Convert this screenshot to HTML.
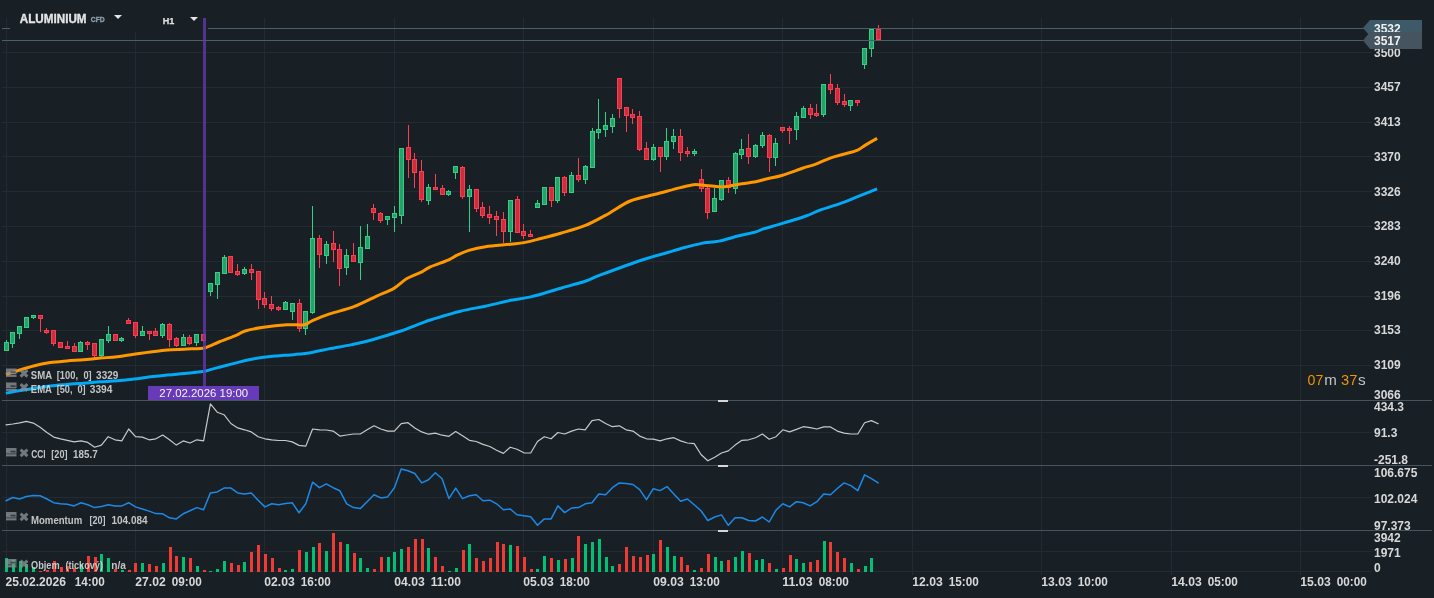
<!DOCTYPE html>
<html><head><meta charset="utf-8"><title>ALUMINIUM H1</title>
<style>html,body{margin:0;padding:0;background:#182026;overflow:hidden;width:1434px;height:598px}svg{display:block;will-change:transform}text{font-family:"Liberation Sans",sans-serif}</style>
</head><body><svg width="1434" height="598" viewBox="0 0 1434 598" font-family="Liberation Sans, sans-serif"><rect x="0" y="0" width="1434" height="598" fill="#182026"/><g fill="#222b31"><rect x="6" y="18" width="1" height="557"/><rect x="135" y="18" width="1" height="557"/><rect x="264" y="18" width="1" height="557"/><rect x="394" y="18" width="1" height="557"/><rect x="523" y="18" width="1" height="557"/><rect x="653" y="18" width="1" height="557"/><rect x="782" y="18" width="1" height="557"/><rect x="912" y="18" width="1" height="557"/><rect x="1041" y="18" width="1" height="557"/><rect x="1171" y="18" width="1" height="557"/><rect x="1300" y="18" width="1" height="557"/><rect x="2" y="52" width="1370" height="1"/><rect x="2" y="87" width="1370" height="1"/><rect x="2" y="122" width="1370" height="1"/><rect x="2" y="156" width="1370" height="1"/><rect x="2" y="191" width="1370" height="1"/><rect x="2" y="226" width="1370" height="1"/><rect x="2" y="261" width="1370" height="1"/><rect x="2" y="296" width="1370" height="1"/><rect x="2" y="330" width="1370" height="1"/><rect x="2" y="365" width="1370" height="1"/><rect x="2" y="432" width="1370" height="1"/><rect x="2" y="497" width="1370" height="1"/><rect x="2" y="551" width="1370" height="1"/><rect x="2" y="571" width="1370" height="1"/></g><rect x="10" y="18" width="198" height="14" fill="#182026"/><g fill="#00c073"><rect x="5" y="558" width="3" height="14"/><rect x="12" y="560" width="3" height="12"/><rect x="19" y="561" width="3" height="11"/><rect x="25" y="564" width="3" height="8"/><rect x="32" y="567" width="3" height="5"/><rect x="80" y="564" width="3" height="8"/><rect x="100" y="554" width="3" height="18"/><rect x="107" y="558" width="3" height="14"/><rect x="121" y="570" width="3" height="2"/><rect x="141" y="563" width="3" height="9"/><rect x="162" y="563" width="3" height="9"/><rect x="182" y="557" width="3" height="15"/><rect x="196" y="566" width="3" height="6"/><rect x="209" y="571" width="3" height="1"/><rect x="216" y="569" width="3" height="3"/><rect x="223" y="561" width="3" height="11"/><rect x="243" y="562" width="3" height="10"/><rect x="284" y="570" width="3" height="2"/><rect x="291" y="569" width="3" height="3"/><rect x="305" y="552" width="3" height="20"/><rect x="312" y="547" width="3" height="25"/><rect x="325" y="551" width="3" height="21"/><rect x="346" y="544" width="3" height="28"/><rect x="359" y="558" width="3" height="14"/><rect x="366" y="568" width="3" height="4"/><rect x="387" y="557" width="3" height="15"/><rect x="393" y="552" width="3" height="20"/><rect x="400" y="549" width="3" height="23"/><rect x="427" y="548" width="3" height="24"/><rect x="448" y="571" width="3" height="1"/><rect x="455" y="568" width="3" height="4"/><rect x="468" y="544" width="3" height="28"/><rect x="509" y="545" width="3" height="27"/><rect x="536" y="569" width="3" height="3"/><rect x="543" y="556" width="3" height="16"/><rect x="557" y="560" width="3" height="12"/><rect x="571" y="558" width="3" height="14"/><rect x="584" y="544" width="3" height="28"/><rect x="591" y="542" width="3" height="30"/><rect x="598" y="539" width="3" height="33"/><rect x="605" y="557" width="3" height="15"/><rect x="611" y="566" width="3" height="6"/><rect x="652" y="554" width="3" height="18"/><rect x="666" y="547" width="3" height="25"/><rect x="673" y="556" width="3" height="16"/><rect x="693" y="570" width="3" height="2"/><rect x="714" y="557" width="3" height="15"/><rect x="720" y="561" width="3" height="11"/><rect x="734" y="557" width="3" height="15"/><rect x="741" y="551" width="3" height="21"/><rect x="755" y="560" width="3" height="12"/><rect x="761" y="559" width="3" height="13"/><rect x="775" y="569" width="3" height="3"/><rect x="795" y="559" width="3" height="13"/><rect x="802" y="563" width="3" height="9"/><rect x="823" y="541" width="3" height="31"/><rect x="850" y="563" width="3" height="9"/><rect x="864" y="566" width="3" height="6"/><rect x="870" y="558" width="3" height="14"/></g><g fill="#ef3b33"><rect x="39" y="571" width="3" height="1"/><rect x="46" y="570" width="3" height="2"/><rect x="53" y="561" width="3" height="11"/><rect x="60" y="567" width="3" height="5"/><rect x="66" y="566" width="3" height="6"/><rect x="73" y="568" width="3" height="4"/><rect x="87" y="556" width="3" height="16"/><rect x="94" y="557" width="3" height="15"/><rect x="114" y="569" width="3" height="3"/><rect x="128" y="570" width="3" height="2"/><rect x="134" y="563" width="3" height="9"/><rect x="148" y="564" width="3" height="8"/><rect x="155" y="566" width="3" height="6"/><rect x="169" y="547" width="3" height="25"/><rect x="175" y="556" width="3" height="16"/><rect x="189" y="558" width="3" height="14"/><rect x="203" y="570" width="3" height="2"/><rect x="230" y="563" width="3" height="9"/><rect x="237" y="565" width="3" height="7"/><rect x="250" y="552" width="3" height="20"/><rect x="257" y="545" width="3" height="27"/><rect x="264" y="554" width="3" height="18"/><rect x="271" y="558" width="3" height="14"/><rect x="278" y="568" width="3" height="4"/><rect x="298" y="550" width="3" height="22"/><rect x="318" y="543" width="3" height="29"/><rect x="332" y="533" width="3" height="39"/><rect x="339" y="542" width="3" height="30"/><rect x="353" y="553" width="3" height="19"/><rect x="373" y="569" width="3" height="3"/><rect x="380" y="557" width="3" height="15"/><rect x="407" y="547" width="3" height="25"/><rect x="414" y="539" width="3" height="33"/><rect x="421" y="539" width="3" height="33"/><rect x="434" y="557" width="3" height="15"/><rect x="441" y="566" width="3" height="6"/><rect x="462" y="550" width="3" height="22"/><rect x="475" y="558" width="3" height="14"/><rect x="482" y="561" width="3" height="11"/><rect x="489" y="558" width="3" height="14"/><rect x="496" y="542" width="3" height="30"/><rect x="502" y="544" width="3" height="28"/><rect x="516" y="546" width="3" height="26"/><rect x="523" y="557" width="3" height="15"/><rect x="530" y="569" width="3" height="3"/><rect x="550" y="558" width="3" height="14"/><rect x="564" y="559" width="3" height="13"/><rect x="577" y="536" width="3" height="36"/><rect x="618" y="564" width="3" height="8"/><rect x="625" y="547" width="3" height="25"/><rect x="632" y="556" width="3" height="16"/><rect x="639" y="557" width="3" height="15"/><rect x="646" y="555" width="3" height="17"/><rect x="659" y="540" width="3" height="32"/><rect x="680" y="557" width="3" height="15"/><rect x="686" y="565" width="3" height="7"/><rect x="700" y="568" width="3" height="4"/><rect x="707" y="554" width="3" height="18"/><rect x="727" y="560" width="3" height="12"/><rect x="748" y="553" width="3" height="19"/><rect x="768" y="563" width="3" height="9"/><rect x="782" y="568" width="3" height="4"/><rect x="789" y="555" width="3" height="17"/><rect x="809" y="562" width="3" height="10"/><rect x="816" y="560" width="3" height="12"/><rect x="829" y="542" width="3" height="30"/><rect x="836" y="552" width="3" height="20"/><rect x="843" y="558" width="3" height="14"/><rect x="857" y="569" width="3" height="3"/></g><g shape-rendering="crispEdges"><rect x="6" y="340" width="1" height="11" fill="#32d086"/><rect x="4" y="342" width="5" height="9" fill="#32d086"/><rect x="5" y="343" width="3" height="7" fill="#26a169"/><rect x="12" y="332" width="1" height="16" fill="#32d086"/><rect x="10" y="332" width="5" height="12" fill="#32d086"/><rect x="11" y="333" width="3" height="10" fill="#26a169"/><rect x="19" y="326" width="1" height="13" fill="#32d086"/><rect x="17" y="326" width="5" height="8" fill="#32d086"/><rect x="18" y="327" width="3" height="6" fill="#26a169"/><rect x="26" y="317" width="1" height="11" fill="#32d086"/><rect x="24" y="317" width="5" height="11" fill="#32d086"/><rect x="25" y="318" width="3" height="9" fill="#26a169"/><rect x="33" y="315" width="1" height="4" fill="#32d086"/><rect x="31" y="315" width="5" height="3" fill="#32d086"/><rect x="32" y="316" width="3" height="1" fill="#26a169"/><rect x="40" y="315" width="1" height="17" fill="#ff3d50"/><rect x="38" y="315" width="5" height="4" fill="#ff3d50"/><rect x="39" y="316" width="3" height="2" fill="#cc2e3e"/><rect x="46" y="328" width="1" height="6" fill="#ff3d50"/><rect x="44" y="330" width="5" height="3" fill="#ff3d50"/><rect x="45" y="331" width="3" height="1" fill="#cc2e3e"/><rect x="53" y="330" width="1" height="16" fill="#ff3d50"/><rect x="51" y="330" width="5" height="14" fill="#ff3d50"/><rect x="52" y="331" width="3" height="12" fill="#cc2e3e"/><rect x="60" y="342" width="1" height="6" fill="#ff3d50"/><rect x="58" y="342" width="5" height="6" fill="#ff3d50"/><rect x="59" y="343" width="3" height="4" fill="#cc2e3e"/><rect x="67" y="341" width="1" height="8" fill="#ff3d50"/><rect x="65" y="346" width="5" height="3" fill="#ff3d50"/><rect x="66" y="347" width="3" height="1" fill="#cc2e3e"/><rect x="74" y="343" width="1" height="9" fill="#ff3d50"/><rect x="72" y="346" width="5" height="6" fill="#ff3d50"/><rect x="73" y="347" width="3" height="4" fill="#cc2e3e"/><rect x="80" y="341" width="1" height="11" fill="#32d086"/><rect x="78" y="342" width="5" height="10" fill="#32d086"/><rect x="79" y="343" width="3" height="8" fill="#26a169"/><rect x="87" y="341" width="1" height="9" fill="#ff3d50"/><rect x="85" y="342" width="5" height="3" fill="#ff3d50"/><rect x="86" y="343" width="3" height="1" fill="#cc2e3e"/><rect x="94" y="343" width="1" height="15" fill="#ff3d50"/><rect x="92" y="343" width="5" height="13" fill="#ff3d50"/><rect x="93" y="344" width="3" height="11" fill="#cc2e3e"/><rect x="101" y="339" width="1" height="19" fill="#32d086"/><rect x="99" y="339" width="5" height="17" fill="#32d086"/><rect x="100" y="340" width="3" height="15" fill="#26a169"/><rect x="108" y="326" width="1" height="17" fill="#32d086"/><rect x="106" y="334" width="5" height="7" fill="#32d086"/><rect x="107" y="335" width="3" height="5" fill="#26a169"/><rect x="115" y="334" width="1" height="7" fill="#ff3d50"/><rect x="113" y="334" width="5" height="7" fill="#ff3d50"/><rect x="114" y="335" width="3" height="5" fill="#cc2e3e"/><rect x="121" y="337" width="1" height="5" fill="#32d086"/><rect x="119" y="338" width="5" height="3" fill="#32d086"/><rect x="120" y="339" width="3" height="1" fill="#26a169"/><rect x="128" y="318" width="1" height="6" fill="#ff3d50"/><rect x="126" y="320" width="5" height="4" fill="#ff3d50"/><rect x="127" y="321" width="3" height="2" fill="#cc2e3e"/><rect x="135" y="322" width="1" height="16" fill="#ff3d50"/><rect x="133" y="322" width="5" height="14" fill="#ff3d50"/><rect x="134" y="323" width="3" height="12" fill="#cc2e3e"/><rect x="142" y="326" width="1" height="10" fill="#32d086"/><rect x="140" y="331" width="5" height="5" fill="#32d086"/><rect x="141" y="332" width="3" height="3" fill="#26a169"/><rect x="149" y="331" width="1" height="9" fill="#ff3d50"/><rect x="147" y="331" width="5" height="3" fill="#ff3d50"/><rect x="148" y="332" width="3" height="1" fill="#cc2e3e"/><rect x="155" y="328" width="1" height="8" fill="#ff3d50"/><rect x="153" y="331" width="5" height="5" fill="#ff3d50"/><rect x="154" y="332" width="3" height="3" fill="#cc2e3e"/><rect x="162" y="323" width="1" height="15" fill="#32d086"/><rect x="160" y="324" width="5" height="12" fill="#32d086"/><rect x="161" y="325" width="3" height="10" fill="#26a169"/><rect x="169" y="323" width="1" height="24" fill="#ff3d50"/><rect x="167" y="324" width="5" height="16" fill="#ff3d50"/><rect x="168" y="325" width="3" height="14" fill="#cc2e3e"/><rect x="176" y="337" width="1" height="10" fill="#ff3d50"/><rect x="174" y="338" width="5" height="8" fill="#ff3d50"/><rect x="175" y="339" width="3" height="6" fill="#cc2e3e"/><rect x="183" y="334" width="1" height="12" fill="#32d086"/><rect x="181" y="337" width="5" height="9" fill="#32d086"/><rect x="182" y="338" width="3" height="7" fill="#26a169"/><rect x="189" y="335" width="1" height="10" fill="#ff3d50"/><rect x="187" y="337" width="5" height="7" fill="#ff3d50"/><rect x="188" y="338" width="3" height="5" fill="#cc2e3e"/><rect x="196" y="334" width="1" height="12" fill="#32d086"/><rect x="194" y="334" width="5" height="9" fill="#32d086"/><rect x="195" y="335" width="3" height="7" fill="#26a169"/><rect x="203" y="334" width="1" height="8" fill="#ff3d50"/><rect x="201" y="334" width="5" height="7" fill="#ff3d50"/><rect x="202" y="335" width="3" height="5" fill="#cc2e3e"/><rect x="210" y="283" width="1" height="13" fill="#32d086"/><rect x="208" y="283" width="5" height="9" fill="#32d086"/><rect x="209" y="284" width="3" height="7" fill="#26a169"/><rect x="217" y="272" width="1" height="27" fill="#32d086"/><rect x="215" y="272" width="5" height="13" fill="#32d086"/><rect x="216" y="273" width="3" height="11" fill="#26a169"/><rect x="224" y="255" width="1" height="19" fill="#32d086"/><rect x="222" y="257" width="5" height="17" fill="#32d086"/><rect x="223" y="258" width="3" height="15" fill="#26a169"/><rect x="230" y="256" width="1" height="17" fill="#ff3d50"/><rect x="228" y="256" width="5" height="17" fill="#ff3d50"/><rect x="229" y="257" width="3" height="15" fill="#cc2e3e"/><rect x="237" y="264" width="1" height="12" fill="#ff3d50"/><rect x="235" y="271" width="5" height="4" fill="#ff3d50"/><rect x="236" y="272" width="3" height="2" fill="#cc2e3e"/><rect x="244" y="267" width="1" height="8" fill="#32d086"/><rect x="242" y="269" width="5" height="5" fill="#32d086"/><rect x="243" y="270" width="3" height="3" fill="#26a169"/><rect x="251" y="264" width="1" height="16" fill="#ff3d50"/><rect x="249" y="269" width="5" height="4" fill="#ff3d50"/><rect x="250" y="270" width="3" height="2" fill="#cc2e3e"/><rect x="258" y="271" width="1" height="38" fill="#ff3d50"/><rect x="256" y="271" width="5" height="29" fill="#ff3d50"/><rect x="257" y="272" width="3" height="27" fill="#cc2e3e"/><rect x="264" y="292" width="1" height="16" fill="#ff3d50"/><rect x="262" y="298" width="5" height="7" fill="#ff3d50"/><rect x="263" y="299" width="3" height="5" fill="#cc2e3e"/><rect x="271" y="296" width="1" height="15" fill="#ff3d50"/><rect x="269" y="304" width="5" height="5" fill="#ff3d50"/><rect x="270" y="305" width="3" height="3" fill="#cc2e3e"/><rect x="278" y="306" width="1" height="5" fill="#ff3d50"/><rect x="276" y="307" width="5" height="3" fill="#ff3d50"/><rect x="277" y="308" width="3" height="1" fill="#cc2e3e"/><rect x="285" y="301" width="1" height="9" fill="#32d086"/><rect x="283" y="302" width="5" height="8" fill="#32d086"/><rect x="284" y="303" width="3" height="6" fill="#26a169"/><rect x="292" y="303" width="1" height="17" fill="#32d086"/><rect x="290" y="303" width="5" height="9" fill="#32d086"/><rect x="291" y="304" width="3" height="7" fill="#26a169"/><rect x="299" y="299" width="1" height="33" fill="#ff3d50"/><rect x="297" y="303" width="5" height="26" fill="#ff3d50"/><rect x="298" y="304" width="3" height="24" fill="#cc2e3e"/><rect x="305" y="311" width="1" height="24" fill="#32d086"/><rect x="303" y="311" width="5" height="18" fill="#32d086"/><rect x="304" y="312" width="3" height="16" fill="#26a169"/><rect x="312" y="206" width="1" height="108" fill="#32d086"/><rect x="310" y="238" width="5" height="75" fill="#32d086"/><rect x="311" y="239" width="3" height="73" fill="#26a169"/><rect x="319" y="235" width="1" height="33" fill="#ff3d50"/><rect x="317" y="238" width="5" height="17" fill="#ff3d50"/><rect x="318" y="239" width="3" height="15" fill="#cc2e3e"/><rect x="326" y="241" width="1" height="23" fill="#32d086"/><rect x="324" y="244" width="5" height="12" fill="#32d086"/><rect x="325" y="245" width="3" height="10" fill="#26a169"/><rect x="333" y="231" width="1" height="31" fill="#ff3d50"/><rect x="331" y="243" width="5" height="7" fill="#ff3d50"/><rect x="332" y="244" width="3" height="5" fill="#cc2e3e"/><rect x="339" y="244" width="1" height="42" fill="#ff3d50"/><rect x="337" y="249" width="5" height="20" fill="#ff3d50"/><rect x="338" y="250" width="3" height="18" fill="#cc2e3e"/><rect x="346" y="249" width="1" height="26" fill="#32d086"/><rect x="344" y="255" width="5" height="13" fill="#32d086"/><rect x="345" y="256" width="3" height="11" fill="#26a169"/><rect x="353" y="243" width="1" height="19" fill="#ff3d50"/><rect x="351" y="255" width="5" height="7" fill="#ff3d50"/><rect x="352" y="256" width="3" height="5" fill="#cc2e3e"/><rect x="360" y="226" width="1" height="54" fill="#32d086"/><rect x="358" y="247" width="5" height="16" fill="#32d086"/><rect x="359" y="248" width="3" height="14" fill="#26a169"/><rect x="367" y="224" width="1" height="25" fill="#32d086"/><rect x="365" y="236" width="5" height="13" fill="#32d086"/><rect x="366" y="237" width="3" height="11" fill="#26a169"/><rect x="373" y="204" width="1" height="16" fill="#ff3d50"/><rect x="371" y="208" width="5" height="5" fill="#ff3d50"/><rect x="372" y="209" width="3" height="3" fill="#cc2e3e"/><rect x="380" y="212" width="1" height="11" fill="#ff3d50"/><rect x="378" y="213" width="5" height="8" fill="#ff3d50"/><rect x="379" y="214" width="3" height="6" fill="#cc2e3e"/><rect x="387" y="216" width="1" height="9" fill="#32d086"/><rect x="385" y="216" width="5" height="4" fill="#32d086"/><rect x="386" y="217" width="3" height="2" fill="#26a169"/><rect x="394" y="206" width="1" height="26" fill="#32d086"/><rect x="392" y="213" width="5" height="5" fill="#32d086"/><rect x="393" y="214" width="3" height="3" fill="#26a169"/><rect x="401" y="148" width="1" height="76" fill="#32d086"/><rect x="399" y="148" width="5" height="68" fill="#32d086"/><rect x="400" y="149" width="3" height="66" fill="#26a169"/><rect x="408" y="125" width="1" height="53" fill="#ff3d50"/><rect x="406" y="147" width="5" height="13" fill="#ff3d50"/><rect x="407" y="148" width="3" height="11" fill="#cc2e3e"/><rect x="414" y="153" width="1" height="35" fill="#ff3d50"/><rect x="412" y="159" width="5" height="14" fill="#ff3d50"/><rect x="413" y="160" width="3" height="12" fill="#cc2e3e"/><rect x="421" y="160" width="1" height="42" fill="#ff3d50"/><rect x="419" y="171" width="5" height="29" fill="#ff3d50"/><rect x="420" y="172" width="3" height="27" fill="#cc2e3e"/><rect x="428" y="184" width="1" height="21" fill="#32d086"/><rect x="426" y="187" width="5" height="14" fill="#32d086"/><rect x="427" y="188" width="3" height="12" fill="#26a169"/><rect x="435" y="174" width="1" height="16" fill="#ff3d50"/><rect x="433" y="187" width="5" height="3" fill="#ff3d50"/><rect x="434" y="188" width="3" height="1" fill="#cc2e3e"/><rect x="442" y="185" width="1" height="10" fill="#ff3d50"/><rect x="440" y="188" width="5" height="7" fill="#ff3d50"/><rect x="441" y="189" width="3" height="5" fill="#cc2e3e"/><rect x="448" y="190" width="1" height="6" fill="#32d086"/><rect x="446" y="191" width="5" height="4" fill="#32d086"/><rect x="447" y="192" width="3" height="2" fill="#26a169"/><rect x="455" y="166" width="1" height="13" fill="#32d086"/><rect x="453" y="166" width="5" height="7" fill="#32d086"/><rect x="454" y="167" width="3" height="5" fill="#26a169"/><rect x="462" y="166" width="1" height="33" fill="#ff3d50"/><rect x="460" y="167" width="5" height="30" fill="#ff3d50"/><rect x="461" y="168" width="3" height="28" fill="#cc2e3e"/><rect x="469" y="185" width="1" height="47" fill="#32d086"/><rect x="467" y="189" width="5" height="8" fill="#32d086"/><rect x="468" y="190" width="3" height="6" fill="#26a169"/><rect x="476" y="189" width="1" height="23" fill="#ff3d50"/><rect x="474" y="189" width="5" height="20" fill="#ff3d50"/><rect x="475" y="190" width="3" height="18" fill="#cc2e3e"/><rect x="482" y="202" width="1" height="16" fill="#ff3d50"/><rect x="480" y="207" width="5" height="9" fill="#ff3d50"/><rect x="481" y="208" width="3" height="7" fill="#cc2e3e"/><rect x="489" y="206" width="1" height="18" fill="#ff3d50"/><rect x="487" y="214" width="5" height="4" fill="#ff3d50"/><rect x="488" y="215" width="3" height="2" fill="#cc2e3e"/><rect x="496" y="211" width="1" height="25" fill="#ff3d50"/><rect x="494" y="216" width="5" height="4" fill="#ff3d50"/><rect x="495" y="217" width="3" height="2" fill="#cc2e3e"/><rect x="503" y="212" width="1" height="31" fill="#ff3d50"/><rect x="501" y="219" width="5" height="13" fill="#ff3d50"/><rect x="502" y="220" width="3" height="11" fill="#cc2e3e"/><rect x="510" y="200" width="1" height="42" fill="#32d086"/><rect x="508" y="200" width="5" height="32" fill="#32d086"/><rect x="509" y="201" width="3" height="30" fill="#26a169"/><rect x="517" y="196" width="1" height="37" fill="#ff3d50"/><rect x="515" y="199" width="5" height="34" fill="#ff3d50"/><rect x="516" y="200" width="3" height="32" fill="#cc2e3e"/><rect x="523" y="224" width="1" height="15" fill="#ff3d50"/><rect x="521" y="231" width="5" height="5" fill="#ff3d50"/><rect x="522" y="232" width="3" height="3" fill="#cc2e3e"/><rect x="530" y="230" width="1" height="7" fill="#ff3d50"/><rect x="528" y="234" width="5" height="3" fill="#ff3d50"/><rect x="529" y="235" width="3" height="1" fill="#cc2e3e"/><rect x="537" y="200" width="1" height="8" fill="#32d086"/><rect x="535" y="203" width="5" height="5" fill="#32d086"/><rect x="536" y="204" width="3" height="3" fill="#26a169"/><rect x="544" y="187" width="1" height="18" fill="#32d086"/><rect x="542" y="187" width="5" height="18" fill="#32d086"/><rect x="543" y="188" width="3" height="16" fill="#26a169"/><rect x="551" y="187" width="1" height="20" fill="#ff3d50"/><rect x="549" y="187" width="5" height="14" fill="#ff3d50"/><rect x="550" y="188" width="3" height="12" fill="#cc2e3e"/><rect x="557" y="177" width="1" height="26" fill="#32d086"/><rect x="555" y="177" width="5" height="24" fill="#32d086"/><rect x="556" y="178" width="3" height="22" fill="#26a169"/><rect x="564" y="176" width="1" height="20" fill="#ff3d50"/><rect x="562" y="177" width="5" height="16" fill="#ff3d50"/><rect x="563" y="178" width="3" height="14" fill="#cc2e3e"/><rect x="571" y="172" width="1" height="21" fill="#32d086"/><rect x="569" y="175" width="5" height="18" fill="#32d086"/><rect x="570" y="176" width="3" height="16" fill="#26a169"/><rect x="578" y="158" width="1" height="24" fill="#ff3d50"/><rect x="576" y="175" width="5" height="5" fill="#ff3d50"/><rect x="577" y="176" width="3" height="3" fill="#cc2e3e"/><rect x="585" y="165" width="1" height="19" fill="#32d086"/><rect x="583" y="166" width="5" height="14" fill="#32d086"/><rect x="584" y="167" width="3" height="12" fill="#26a169"/><rect x="592" y="128" width="1" height="40" fill="#32d086"/><rect x="590" y="131" width="5" height="37" fill="#32d086"/><rect x="591" y="132" width="3" height="35" fill="#26a169"/><rect x="598" y="99" width="1" height="40" fill="#32d086"/><rect x="596" y="129" width="5" height="4" fill="#32d086"/><rect x="597" y="130" width="3" height="2" fill="#26a169"/><rect x="605" y="112" width="1" height="25" fill="#32d086"/><rect x="603" y="125" width="5" height="5" fill="#32d086"/><rect x="604" y="126" width="3" height="3" fill="#26a169"/><rect x="612" y="114" width="1" height="19" fill="#32d086"/><rect x="610" y="118" width="5" height="9" fill="#32d086"/><rect x="611" y="119" width="3" height="7" fill="#26a169"/><rect x="619" y="78" width="1" height="40" fill="#ff3d50"/><rect x="617" y="78" width="5" height="31" fill="#ff3d50"/><rect x="618" y="79" width="3" height="29" fill="#cc2e3e"/><rect x="626" y="107" width="1" height="25" fill="#ff3d50"/><rect x="624" y="107" width="5" height="9" fill="#ff3d50"/><rect x="625" y="108" width="3" height="7" fill="#cc2e3e"/><rect x="632" y="109" width="1" height="15" fill="#ff3d50"/><rect x="630" y="114" width="5" height="4" fill="#ff3d50"/><rect x="631" y="115" width="3" height="2" fill="#cc2e3e"/><rect x="639" y="111" width="1" height="40" fill="#ff3d50"/><rect x="637" y="116" width="5" height="34" fill="#ff3d50"/><rect x="638" y="117" width="3" height="32" fill="#cc2e3e"/><rect x="646" y="142" width="1" height="18" fill="#ff3d50"/><rect x="644" y="148" width="5" height="12" fill="#ff3d50"/><rect x="645" y="149" width="3" height="10" fill="#cc2e3e"/><rect x="653" y="144" width="1" height="17" fill="#32d086"/><rect x="651" y="147" width="5" height="13" fill="#32d086"/><rect x="652" y="148" width="3" height="11" fill="#26a169"/><rect x="660" y="147" width="1" height="25" fill="#ff3d50"/><rect x="658" y="147" width="5" height="10" fill="#ff3d50"/><rect x="659" y="148" width="3" height="8" fill="#cc2e3e"/><rect x="666" y="128" width="1" height="32" fill="#32d086"/><rect x="664" y="141" width="5" height="16" fill="#32d086"/><rect x="665" y="142" width="3" height="14" fill="#26a169"/><rect x="673" y="129" width="1" height="20" fill="#32d086"/><rect x="671" y="136" width="5" height="6" fill="#32d086"/><rect x="672" y="137" width="3" height="4" fill="#26a169"/><rect x="680" y="129" width="1" height="32" fill="#ff3d50"/><rect x="678" y="136" width="5" height="17" fill="#ff3d50"/><rect x="679" y="137" width="3" height="15" fill="#cc2e3e"/><rect x="687" y="147" width="1" height="10" fill="#ff3d50"/><rect x="685" y="151" width="5" height="3" fill="#ff3d50"/><rect x="686" y="152" width="3" height="1" fill="#cc2e3e"/><rect x="694" y="149" width="1" height="7" fill="#32d086"/><rect x="692" y="151" width="5" height="3" fill="#32d086"/><rect x="693" y="152" width="3" height="1" fill="#26a169"/><rect x="701" y="169" width="1" height="23" fill="#ff3d50"/><rect x="699" y="179" width="5" height="10" fill="#ff3d50"/><rect x="700" y="180" width="3" height="8" fill="#cc2e3e"/><rect x="707" y="187" width="1" height="32" fill="#ff3d50"/><rect x="705" y="188" width="5" height="25" fill="#ff3d50"/><rect x="706" y="189" width="3" height="23" fill="#cc2e3e"/><rect x="714" y="188" width="1" height="24" fill="#32d086"/><rect x="712" y="198" width="5" height="14" fill="#32d086"/><rect x="713" y="199" width="3" height="12" fill="#26a169"/><rect x="721" y="180" width="1" height="21" fill="#32d086"/><rect x="719" y="180" width="5" height="20" fill="#32d086"/><rect x="720" y="181" width="3" height="18" fill="#26a169"/><rect x="728" y="177" width="1" height="16" fill="#ff3d50"/><rect x="726" y="180" width="5" height="8" fill="#ff3d50"/><rect x="727" y="181" width="3" height="6" fill="#cc2e3e"/><rect x="735" y="152" width="1" height="42" fill="#32d086"/><rect x="733" y="153" width="5" height="36" fill="#32d086"/><rect x="734" y="154" width="3" height="34" fill="#26a169"/><rect x="741" y="139" width="1" height="20" fill="#32d086"/><rect x="739" y="149" width="5" height="6" fill="#32d086"/><rect x="740" y="150" width="3" height="4" fill="#26a169"/><rect x="748" y="134" width="1" height="30" fill="#ff3d50"/><rect x="746" y="148" width="5" height="9" fill="#ff3d50"/><rect x="747" y="149" width="3" height="7" fill="#cc2e3e"/><rect x="755" y="144" width="1" height="14" fill="#32d086"/><rect x="753" y="145" width="5" height="12" fill="#32d086"/><rect x="754" y="146" width="3" height="10" fill="#26a169"/><rect x="762" y="132" width="1" height="16" fill="#32d086"/><rect x="760" y="135" width="5" height="11" fill="#32d086"/><rect x="761" y="136" width="3" height="9" fill="#26a169"/><rect x="769" y="134" width="1" height="38" fill="#ff3d50"/><rect x="767" y="135" width="5" height="23" fill="#ff3d50"/><rect x="768" y="136" width="3" height="21" fill="#cc2e3e"/><rect x="775" y="138" width="1" height="28" fill="#32d086"/><rect x="773" y="143" width="5" height="15" fill="#32d086"/><rect x="774" y="144" width="3" height="13" fill="#26a169"/><rect x="782" y="127" width="1" height="6" fill="#ff3d50"/><rect x="780" y="127" width="5" height="4" fill="#ff3d50"/><rect x="781" y="128" width="3" height="2" fill="#cc2e3e"/><rect x="789" y="126" width="1" height="18" fill="#ff3d50"/><rect x="787" y="128" width="5" height="3" fill="#ff3d50"/><rect x="788" y="129" width="3" height="1" fill="#cc2e3e"/><rect x="796" y="112" width="1" height="28" fill="#32d086"/><rect x="794" y="116" width="5" height="14" fill="#32d086"/><rect x="795" y="117" width="3" height="12" fill="#26a169"/><rect x="803" y="106" width="1" height="12" fill="#32d086"/><rect x="801" y="108" width="5" height="10" fill="#32d086"/><rect x="802" y="109" width="3" height="8" fill="#26a169"/><rect x="810" y="104" width="1" height="15" fill="#ff3d50"/><rect x="808" y="108" width="5" height="7" fill="#ff3d50"/><rect x="809" y="109" width="3" height="5" fill="#cc2e3e"/><rect x="816" y="104" width="1" height="13" fill="#ff3d50"/><rect x="814" y="113" width="5" height="3" fill="#ff3d50"/><rect x="815" y="114" width="3" height="1" fill="#cc2e3e"/><rect x="823" y="84" width="1" height="33" fill="#32d086"/><rect x="821" y="84" width="5" height="31" fill="#32d086"/><rect x="822" y="85" width="3" height="29" fill="#26a169"/><rect x="830" y="74" width="1" height="20" fill="#ff3d50"/><rect x="828" y="84" width="5" height="6" fill="#ff3d50"/><rect x="829" y="85" width="3" height="4" fill="#cc2e3e"/><rect x="837" y="84" width="1" height="21" fill="#ff3d50"/><rect x="835" y="88" width="5" height="15" fill="#ff3d50"/><rect x="836" y="89" width="3" height="13" fill="#cc2e3e"/><rect x="844" y="94" width="1" height="13" fill="#ff3d50"/><rect x="842" y="101" width="5" height="4" fill="#ff3d50"/><rect x="843" y="102" width="3" height="2" fill="#cc2e3e"/><rect x="850" y="100" width="1" height="11" fill="#32d086"/><rect x="848" y="100" width="5" height="6" fill="#32d086"/><rect x="849" y="101" width="3" height="4" fill="#26a169"/><rect x="857" y="100" width="1" height="6" fill="#ff3d50"/><rect x="855" y="100" width="5" height="3" fill="#ff3d50"/><rect x="856" y="101" width="3" height="1" fill="#cc2e3e"/><rect x="864" y="48" width="1" height="21" fill="#32d086"/><rect x="862" y="48" width="5" height="17" fill="#32d086"/><rect x="863" y="49" width="3" height="15" fill="#26a169"/><rect x="871" y="29" width="1" height="28" fill="#32d086"/><rect x="869" y="29" width="5" height="20" fill="#32d086"/><rect x="870" y="30" width="3" height="18" fill="#26a169"/><rect x="878" y="25" width="1" height="15" fill="#ff3d50"/><rect x="876" y="29" width="5" height="11" fill="#ff3d50"/><rect x="877" y="30" width="3" height="9" fill="#cc2e3e"/></g><path d="M5.9,374.3 C7.7,373.8 12.1,372.4 16.7,371.0 C21.3,369.6 27.9,367.4 33.5,366.0 C39.1,364.6 44.6,363.5 50.2,362.6 C55.8,361.8 61.3,361.4 66.9,360.9 C72.5,360.4 78.1,360.2 83.7,359.7 C89.3,359.2 94.8,358.6 100.4,358.1 C106.0,357.6 111.6,357.4 117.2,356.7 C122.8,356.0 128.3,355.0 133.9,354.2 C139.5,353.4 145.0,352.7 150.6,352.0 C156.2,351.3 161.8,350.5 167.4,350.0 C173.0,349.5 178.5,349.5 184.1,349.2 C189.7,348.9 197.2,348.7 200.8,348.4 C204.4,348.1 202.7,348.6 205.9,347.5 C209.1,346.4 214.9,343.6 220.0,341.5 C225.1,339.4 232.5,336.9 236.7,335.1 C240.9,333.4 240.9,332.2 245.1,331.0 C249.3,329.8 254.8,328.6 261.8,327.6 C268.8,326.6 279.9,325.3 286.9,324.8 C293.9,324.3 299.5,325.5 303.7,324.8 C307.9,324.1 307.8,322.7 312.0,320.9 C316.2,319.1 321.8,316.6 328.8,314.2 C335.8,311.8 345.9,309.7 353.9,306.7 C361.9,303.7 370.1,299.1 376.7,296.1 C383.3,293.1 388.5,291.5 393.5,288.6 C398.5,285.7 402.2,281.3 406.9,278.5 C411.6,275.7 418.0,273.8 421.9,271.8 C425.8,269.9 425.8,268.8 430.3,266.8 C434.8,264.8 444.2,261.8 448.7,259.8 C453.2,257.9 453.8,256.7 457.1,255.1 C460.5,253.5 464.1,251.8 468.8,250.4 C473.5,249.0 478.5,247.7 485.5,246.7 C492.5,245.7 504.2,244.9 510.6,244.2 C517.0,243.5 519.7,243.4 524.0,242.6 C528.3,241.8 530.5,241.2 536.6,239.6 C542.7,238.0 552.7,235.5 560.7,233.2 C568.7,230.9 577.3,228.7 584.8,225.7 C592.3,222.7 598.3,219.2 605.9,215.1 C613.5,211.0 622.0,204.5 630.2,201.0 C638.4,197.5 646.9,196.5 655.3,194.3 C663.7,192.1 674.0,189.2 680.4,187.6 C686.8,186.0 689.6,185.1 693.8,184.7 C698.0,184.3 701.3,185.1 705.5,185.4 C709.7,185.7 715.3,186.5 718.9,186.7 C722.5,186.9 723.9,186.8 727.3,186.4 C730.6,186.0 734.3,185.0 739.0,184.2 C743.7,183.4 751.0,182.6 755.7,181.7 C760.4,180.8 763.1,179.7 767.4,178.7 C771.7,177.7 776.0,177.2 781.7,175.5 C787.4,173.8 796.2,170.4 801.8,168.5 C807.4,166.6 810.5,166.0 815.2,164.3 C819.9,162.6 825.5,159.8 830.2,158.1 C834.9,156.4 839.1,155.6 843.6,154.3 C848.1,153.0 853.4,151.9 857.0,150.4 C860.6,148.9 862.0,147.1 865.4,145.1 C868.8,143.1 875.1,139.5 877.1,138.4" fill="none" stroke="#ff9800" stroke-width="3.0" stroke-linejoin="round" stroke-linecap="butt"/><path d="M5.9,393.2 C7.7,392.8 12.1,391.8 16.7,391.0 C21.3,390.2 27.9,389.3 33.5,388.5 C39.1,387.7 44.6,386.7 50.2,386.0 C55.8,385.3 61.3,384.9 66.9,384.4 C72.5,383.9 78.1,383.6 83.7,383.2 C89.3,382.8 94.8,382.2 100.4,381.8 C106.0,381.4 111.6,381.2 117.2,380.7 C122.8,380.2 128.3,379.6 133.9,379.0 C139.5,378.4 145.0,377.4 150.6,376.8 C156.2,376.2 161.8,375.7 167.4,375.1 C173.0,374.6 178.5,374.1 184.1,373.5 C189.7,372.9 197.2,372.2 200.8,371.8 C204.4,371.4 203.1,371.7 205.9,371.0 C208.7,370.3 212.9,368.9 217.6,367.6 C222.3,366.3 228.9,364.8 234.3,363.4 C239.7,362.0 244.1,360.5 250.1,359.4 C256.1,358.3 262.7,357.4 270.2,356.6 C277.7,355.8 288.3,355.1 295.3,354.4 C302.3,353.7 306.4,353.3 312.0,352.4 C317.6,351.5 322.4,350.1 328.8,348.9 C335.2,347.6 343.5,346.3 350.5,344.9 C357.5,343.4 362.2,342.5 370.6,340.2 C379.0,337.9 392.4,333.8 400.8,331.0 C409.2,328.2 415.6,325.3 420.8,323.4 C426.0,321.5 425.4,321.5 432.0,319.5 C438.6,317.5 451.5,313.4 460.4,311.2 C469.3,309.0 477.1,308.0 485.5,306.2 C493.9,304.4 503.1,301.9 510.6,300.3 C518.1,298.8 522.3,298.9 530.7,296.9 C539.1,294.9 551.6,290.8 560.8,288.2 C570.0,285.6 579.4,283.2 585.9,281.0 C592.4,278.8 590.4,278.8 600.0,275.2 C609.6,271.6 632.4,263.2 643.6,259.5 C654.8,255.8 660.9,254.6 667.0,252.8 C673.1,251.0 674.8,250.2 680.4,248.7 C686.0,247.2 694.1,244.9 700.5,243.6 C706.9,242.3 712.5,242.4 718.9,241.1 C725.3,239.8 732.9,237.3 739.0,235.8 C745.1,234.3 751.5,233.1 755.7,231.9 C759.9,230.7 759.9,229.9 764.1,228.6 C768.3,227.3 773.8,226.0 780.8,223.9 C787.8,221.8 799.4,218.3 805.9,216.0 C812.4,213.7 813.7,212.5 820.0,210.2 C826.3,207.9 837.4,204.5 843.6,202.3 C849.8,200.1 851.4,199.1 857.0,196.9 C862.6,194.7 873.8,190.2 877.1,188.9" fill="none" stroke="#03a9f4" stroke-width="3.0" stroke-linejoin="round" stroke-linecap="butt"/><rect x="2" y="28" width="1362" height="1" fill="#4b5f6a"/><rect x="2" y="40" width="1362" height="1" fill="#4b5f6a"/><rect x="10" y="27" width="198" height="3" fill="#182026"/><rect x="203" y="18" width="3" height="368" fill="#673ab7" fill-opacity="0.75"/><polyline points="6.0,424.8 12.8,424.0 19.6,422.9 26.4,421.4 33.3,423.1 40.1,427.3 46.9,432.5 53.7,437.1 60.5,438.8 67.3,440.3 74.1,441.9 81.0,440.9 87.8,442.4 94.6,447.2 101.4,445.1 108.2,436.7 115.0,439.8 121.8,440.9 128.7,429.0 135.5,436.7 142.3,437.1 149.1,439.8 155.9,438.8 162.7,435.0 169.5,439.8 176.3,445.1 183.2,440.9 190.0,443.0 196.8,439.8 203.6,440.9 210.4,403.9 217.2,412.2 224.0,414.7 230.9,423.5 237.7,427.9 244.5,429.8 251.3,431.9 258.1,436.7 264.9,438.8 271.7,439.8 278.6,440.5 285.4,440.5 292.2,441.9 299.0,445.4 305.8,446.1 312.6,429.0 319.4,429.8 326.3,430.0 333.1,431.1 339.9,436.1 346.7,435.0 353.5,434.0 360.3,434.0 367.1,429.8 374.0,425.8 380.8,429.0 387.6,431.1 394.4,431.1 401.2,423.7 408.0,422.7 414.8,427.9 421.7,431.9 428.5,434.2 435.3,433.1 442.1,435.2 448.9,436.3 455.7,431.5 462.5,435.7 469.4,440.3 476.2,441.5 483.0,444.4 489.8,446.5 496.6,450.3 503.4,453.4 510.2,447.2 517.0,449.3 523.9,452.8 530.7,453.0 537.5,441.5 544.3,436.7 551.1,438.8 557.9,432.5 564.7,434.0 571.6,431.1 578.4,429.0 585.2,429.8 592.0,420.6 598.8,419.5 605.6,423.5 612.4,426.7 619.3,425.8 626.1,429.8 632.9,431.1 639.7,436.1 646.5,438.8 653.3,439.2 660.1,440.9 667.0,438.8 673.8,437.7 680.6,440.9 687.4,443.0 694.2,443.6 701.0,454.5 707.8,460.8 714.7,457.2 721.5,453.0 728.3,450.9 735.1,445.1 741.9,440.3 748.7,439.8 755.5,437.7 762.4,434.0 769.2,439.2 776.0,436.7 782.8,429.8 789.6,431.9 796.4,429.4 803.2,426.7 810.1,427.7 816.9,429.0 823.7,426.9 830.5,426.9 837.3,431.1 844.1,433.1 850.9,434.0 857.8,434.0 864.6,422.7 871.4,420.6 878.2,423.7" fill="none" stroke="#c9c9c9" stroke-width="1.2" stroke-linejoin="round" stroke-linecap="round"/><polyline points="6.0,500.7 12.8,497.5 19.6,499.0 26.4,496.5 33.3,495.4 40.1,495.8 46.9,499.0 53.7,502.7 60.5,503.8 67.3,504.2 74.1,505.9 81.0,502.7 87.8,504.8 94.6,507.6 101.4,506.5 108.2,504.8 115.0,505.9 121.8,505.9 128.7,502.7 135.5,506.9 142.3,509.0 149.1,511.1 155.9,513.6 162.7,513.8 169.5,517.8 176.3,518.9 183.2,513.8 190.0,510.7 196.8,507.6 203.6,509.7 210.4,492.9 217.2,491.9 224.0,488.1 230.9,488.1 237.7,492.9 244.5,494.0 251.3,492.9 258.1,500.2 264.9,506.9 271.7,503.8 278.6,504.8 285.4,503.4 292.2,502.7 299.0,512.8 305.8,503.8 312.6,482.2 319.4,487.7 326.3,483.9 333.1,487.7 339.9,490.8 346.7,503.8 353.5,507.6 360.3,508.6 367.1,501.7 374.0,494.8 380.8,497.9 387.6,496.9 394.4,487.7 401.2,468.9 408.0,470.7 414.8,473.5 421.7,482.9 428.5,479.7 435.3,472.8 442.1,478.7 448.9,498.6 455.7,488.1 462.5,498.6 469.4,495.8 476.2,494.8 483.0,500.7 489.8,500.2 496.6,503.8 503.4,509.7 510.2,509.0 517.0,514.7 523.9,515.7 530.7,516.8 537.5,525.3 544.3,518.9 551.1,518.9 557.9,505.9 564.7,512.6 571.6,508.0 578.4,507.6 585.2,503.8 592.0,502.7 598.8,494.0 605.6,494.8 612.4,487.7 619.3,482.9 626.1,483.5 632.9,484.5 639.7,489.6 646.5,499.6 653.3,488.7 660.1,490.6 667.0,486.6 673.8,494.0 680.6,501.3 687.4,499.0 694.2,504.8 701.0,510.7 707.8,520.5 714.7,517.0 721.5,514.9 728.3,525.3 735.1,517.8 741.9,517.8 748.7,520.5 755.5,521.0 762.4,517.0 769.2,522.0 776.0,510.1 782.8,503.8 789.6,506.9 796.4,501.7 803.2,502.7 810.1,505.9 816.9,501.7 823.7,494.0 830.5,494.8 837.3,488.5 844.1,482.9 850.9,485.6 857.8,490.6 864.6,474.9 871.4,478.7 878.2,482.9" fill="none" stroke="#1e88e5" stroke-width="1.5" stroke-linejoin="round" stroke-linecap="round"/><rect x="2" y="400" width="1430" height="1" fill="#46545e"/><rect x="718" y="400" width="10" height="2" fill="#d6d6d6"/><rect x="2" y="465" width="1430" height="1" fill="#46545e"/><rect x="718" y="465" width="10" height="2" fill="#d6d6d6"/><rect x="2" y="530" width="1430" height="1" fill="#46545e"/><rect x="718" y="530" width="10" height="2" fill="#d6d6d6"/><rect x="148" y="386" width="111" height="14" fill="#673ab7"/><text x="159.3" y="396.9" font-size="10.6" fill="#f2f2f2" textLength="88.8" lengthAdjust="spacingAndGlyphs">27.02.2026 19:00</text><g font-family="Liberation Sans, sans-serif" opacity="0.995"><text x="1374" y="57" font-size="12" font-weight="bold" fill="#d9d9d9" >3500</text><text x="1374" y="91" font-size="12" font-weight="bold" fill="#d9d9d9" >3457</text><text x="1374" y="126" font-size="12" font-weight="bold" fill="#d9d9d9" >3413</text><text x="1374" y="161" font-size="12" font-weight="bold" fill="#d9d9d9" >3370</text><text x="1374" y="196" font-size="12" font-weight="bold" fill="#d9d9d9" >3326</text><text x="1374" y="230" font-size="12" font-weight="bold" fill="#d9d9d9" >3283</text><text x="1374" y="265" font-size="12" font-weight="bold" fill="#d9d9d9" >3240</text><text x="1374" y="300" font-size="12" font-weight="bold" fill="#d9d9d9" >3196</text><text x="1374" y="334" font-size="12" font-weight="bold" fill="#d9d9d9" >3153</text><text x="1374" y="369" font-size="12" font-weight="bold" fill="#d9d9d9" >3109</text><text x="1374" y="399" font-size="12" font-weight="bold" fill="#d9d9d9" >3066</text><text x="1374" y="411" font-size="12" font-weight="bold" fill="#d9d9d9" >434.3</text><text x="1374" y="437" font-size="12" font-weight="bold" fill="#d9d9d9" >91.3</text><text x="1374" y="464" font-size="12" font-weight="bold" fill="#d9d9d9" >-251.8</text><text x="1374" y="477" font-size="12" font-weight="bold" fill="#d9d9d9" >106.675</text><text x="1374" y="503" font-size="12" font-weight="bold" fill="#d9d9d9" >102.024</text><text x="1374" y="530" font-size="12" font-weight="bold" fill="#d9d9d9" >97.373</text><text x="1374" y="542" font-size="12" font-weight="bold" fill="#d9d9d9" >3942</text><text x="1374" y="556.5" font-size="12" font-weight="bold" fill="#d9d9d9" >1971</text><text x="1374" y="572" font-size="12" font-weight="bold" fill="#d9d9d9" >0</text><path d="M1363,28 L1370,20 L1422,20 L1422,36 L1370,36 Z" fill="#3f5b69"/><text x="1374" y="32.5" font-size="12" font-weight="bold" fill="#f2f2f2" >3532</text><path d="M1363,40.5 L1370,32 L1422,32 L1422,49 L1370,49 Z" fill="#46555f"/><text x="1374" y="45" font-size="12" font-weight="bold" fill="#f2f2f2" >3517</text><text x="5.5" y="586" font-size="12" font-weight="bold" fill="#d9d9d9" textLength="60.5" lengthAdjust="spacingAndGlyphs">25.02.2026</text><text x="74.8" y="586" font-size="12" font-weight="bold" fill="#d9d9d9" textLength="30" lengthAdjust="spacingAndGlyphs">14:00</text><text x="135.2" y="586" font-size="12" font-weight="bold" fill="#d9d9d9" textLength="30.5" lengthAdjust="spacingAndGlyphs">27.02</text><text x="171.8" y="586" font-size="12" font-weight="bold" fill="#d9d9d9" textLength="30" lengthAdjust="spacingAndGlyphs">09:00</text><text x="264.2" y="586" font-size="12" font-weight="bold" fill="#d9d9d9" textLength="30.5" lengthAdjust="spacingAndGlyphs">02.03</text><text x="300.8" y="586" font-size="12" font-weight="bold" fill="#d9d9d9" textLength="30" lengthAdjust="spacingAndGlyphs">16:00</text><text x="394.2" y="586" font-size="12" font-weight="bold" fill="#d9d9d9" textLength="30.5" lengthAdjust="spacingAndGlyphs">04.03</text><text x="430.8" y="586" font-size="12" font-weight="bold" fill="#d9d9d9" textLength="30" lengthAdjust="spacingAndGlyphs">11:00</text><text x="523.2" y="586" font-size="12" font-weight="bold" fill="#d9d9d9" textLength="30.5" lengthAdjust="spacingAndGlyphs">05.03</text><text x="559.8" y="586" font-size="12" font-weight="bold" fill="#d9d9d9" textLength="30" lengthAdjust="spacingAndGlyphs">18:00</text><text x="653.2" y="586" font-size="12" font-weight="bold" fill="#d9d9d9" textLength="30.5" lengthAdjust="spacingAndGlyphs">09.03</text><text x="689.8" y="586" font-size="12" font-weight="bold" fill="#d9d9d9" textLength="30" lengthAdjust="spacingAndGlyphs">13:00</text><text x="782.2" y="586" font-size="12" font-weight="bold" fill="#d9d9d9" textLength="30.5" lengthAdjust="spacingAndGlyphs">11.03</text><text x="818.8" y="586" font-size="12" font-weight="bold" fill="#d9d9d9" textLength="30" lengthAdjust="spacingAndGlyphs">08:00</text><text x="912.2" y="586" font-size="12" font-weight="bold" fill="#d9d9d9" textLength="30.5" lengthAdjust="spacingAndGlyphs">12.03</text><text x="948.8" y="586" font-size="12" font-weight="bold" fill="#d9d9d9" textLength="30" lengthAdjust="spacingAndGlyphs">15:00</text><text x="1041.2" y="586" font-size="12" font-weight="bold" fill="#d9d9d9" textLength="30.5" lengthAdjust="spacingAndGlyphs">13.03</text><text x="1077.8" y="586" font-size="12" font-weight="bold" fill="#d9d9d9" textLength="30" lengthAdjust="spacingAndGlyphs">10:00</text><text x="1171.2" y="586" font-size="12" font-weight="bold" fill="#d9d9d9" textLength="30.5" lengthAdjust="spacingAndGlyphs">14.03</text><text x="1207.8" y="586" font-size="12" font-weight="bold" fill="#d9d9d9" textLength="30" lengthAdjust="spacingAndGlyphs">05:00</text><text x="1300.2" y="586" font-size="12" font-weight="bold" fill="#d9d9d9" textLength="30.5" lengthAdjust="spacingAndGlyphs">15.03</text><text x="1336.8" y="586" font-size="12" font-weight="bold" fill="#d9d9d9" textLength="30" lengthAdjust="spacingAndGlyphs">00:00</text><text x="1307.6000000000001" y="385" font-size="14" fill="#f39200" textLength="15.7" lengthAdjust="spacingAndGlyphs">07</text><text x="1324.2" y="385" font-size="14" fill="#c4c4c4" textLength="12.6" lengthAdjust="spacingAndGlyphs">m</text><text x="1341.0" y="385" font-size="14" fill="#f39200" textLength="16.4" lengthAdjust="spacingAndGlyphs">37</text><text x="1358.1000000000001" y="385" font-size="14" fill="#c4c4c4" textLength="7.7" lengthAdjust="spacingAndGlyphs">s</text><text x="19.8" y="22.8" font-size="12" font-weight="bold" fill="#e6e6e6" stroke="#e6e6e6" stroke-width="0.35" textLength="66.8" lengthAdjust="spacingAndGlyphs">ALUMINIUM</text><text x="90.8" y="22" font-size="8" font-weight="bold" fill="#8ea2b0" stroke="#8ea2b0" stroke-width="0.3" textLength="14" lengthAdjust="spacingAndGlyphs">CFD</text><path d="M114,15 L122,15 L118,19 Z" fill="#e6e6e6"/><text x="162.8" y="24" font-size="9.6" font-weight="bold" fill="#e0e0e0" stroke="#e0e0e0" stroke-width="0.25" textLength="11.6" lengthAdjust="spacingAndGlyphs">H1</text><path d="M190,17 L198,17 L194,21 Z" fill="#e6e6e6"/><g opacity="0.8"><g fill="#8a9094"><rect x="6" y="368.5" width="10.5" height="5.6"/><rect x="6" y="374.7" width="10.5" height="2.2"/></g><rect x="10.6" y="371.3" width="5" height="1.6" fill="#3a4046"/><path d="M20.6,370.1 L27.4,376.7 M27.4,370.1 L20.6,376.7" stroke="#8a9094" stroke-width="3"/></g><text x="30.8" y="379" font-size="10" font-weight="bold" fill="#d4d4d4" fill-opacity="0.92" textLength="21.3" lengthAdjust="spacingAndGlyphs">SMA</text><text x="56.7" y="379" font-size="10" font-weight="bold" fill="#d4d4d4" fill-opacity="0.92" textLength="21.3" lengthAdjust="spacingAndGlyphs">[100,</text><text x="83.4" y="379" font-size="10" font-weight="bold" fill="#d4d4d4" fill-opacity="0.92" textLength="8.2" lengthAdjust="spacingAndGlyphs">0]</text><text x="96.1" y="379" font-size="10" font-weight="bold" fill="#d4d4d4" fill-opacity="0.92" textLength="22.2" lengthAdjust="spacingAndGlyphs">3329</text><g opacity="0.8"><g fill="#8a9094"><rect x="6" y="382.5" width="10.5" height="5.6"/><rect x="6" y="388.7" width="10.5" height="2.2"/></g><rect x="10.6" y="385.3" width="5" height="1.6" fill="#3a4046"/><path d="M20.6,384.1 L27.4,390.7 M27.4,384.1 L20.6,390.7" stroke="#8a9094" stroke-width="3"/></g><text x="30.8" y="393" font-size="10" font-weight="bold" fill="#d4d4d4" fill-opacity="0.92" textLength="21.2" lengthAdjust="spacingAndGlyphs">EMA</text><text x="56.7" y="393" font-size="10" font-weight="bold" fill="#d4d4d4" fill-opacity="0.92" textLength="15.8" lengthAdjust="spacingAndGlyphs">[50,</text><text x="77.5" y="393" font-size="10" font-weight="bold" fill="#d4d4d4" fill-opacity="0.92" textLength="8.2" lengthAdjust="spacingAndGlyphs">0]</text><text x="89.8" y="393" font-size="10" font-weight="bold" fill="#d4d4d4" fill-opacity="0.92" textLength="22.6" lengthAdjust="spacingAndGlyphs">3394</text><g opacity="0.8"><g fill="#8a9094"><rect x="6" y="448" width="10.5" height="5.6"/><rect x="6" y="454.2" width="10.5" height="2.2"/></g><rect x="10.6" y="450.8" width="5" height="1.6" fill="#3a4046"/><path d="M20.6,449.6 L27.4,456.2 M27.4,449.6 L20.6,456.2" stroke="#8a9094" stroke-width="3"/></g><text x="31.2" y="457.8" font-size="10" font-weight="bold" fill="#d4d4d4" fill-opacity="0.92" textLength="14.5" lengthAdjust="spacingAndGlyphs">CCI</text><text x="51.3" y="457.8" font-size="10" font-weight="bold" fill="#d4d4d4" fill-opacity="0.92" textLength="16.2" lengthAdjust="spacingAndGlyphs">[20]</text><text x="73.1" y="457.8" font-size="10" font-weight="bold" fill="#d4d4d4" fill-opacity="0.92" textLength="24.5" lengthAdjust="spacingAndGlyphs">185.7</text><g opacity="0.8"><g fill="#8a9094"><rect x="6" y="512" width="10.5" height="5.6"/><rect x="6" y="518.2" width="10.5" height="2.2"/></g><rect x="10.6" y="514.8" width="5" height="1.6" fill="#3a4046"/><path d="M20.6,513.6 L27.4,520.2 M27.4,513.6 L20.6,520.2" stroke="#8a9094" stroke-width="3"/></g><text x="31" y="523.7" font-size="10" font-weight="bold" fill="#d4d4d4" fill-opacity="0.92" textLength="51.2" lengthAdjust="spacingAndGlyphs">Momentum</text><text x="89.5" y="523.7" font-size="10" font-weight="bold" fill="#d4d4d4" fill-opacity="0.92" textLength="16.1" lengthAdjust="spacingAndGlyphs">[20]</text><text x="111.5" y="523.7" font-size="10" font-weight="bold" fill="#d4d4d4" fill-opacity="0.92" textLength="36.0" lengthAdjust="spacingAndGlyphs">104.084</text><g opacity="0.8"><g fill="#8a9094"><rect x="6" y="559" width="10.5" height="5.6"/><rect x="6" y="565.2" width="10.5" height="2.2"/></g><rect x="10.6" y="561.8" width="5" height="1.6" fill="#3a4046"/><path d="M20.6,560.6 L27.4,567.2 M27.4,560.6 L20.6,567.2" stroke="#8a9094" stroke-width="3"/></g><text x="31" y="569.2" font-size="10" font-weight="bold" fill="#d4d4d4" fill-opacity="0.92" textLength="28.6" lengthAdjust="spacingAndGlyphs">Objem</text><text x="65.4" y="569.2" font-size="10" font-weight="bold" fill="#d4d4d4" fill-opacity="0.92" textLength="37.6" lengthAdjust="spacingAndGlyphs">(tickový)</text><text x="111.3" y="569.2" font-size="10" font-weight="bold" fill="#d4d4d4" fill-opacity="0.92" textLength="14.7" lengthAdjust="spacingAndGlyphs">n/a</text></g></svg></body></html>
